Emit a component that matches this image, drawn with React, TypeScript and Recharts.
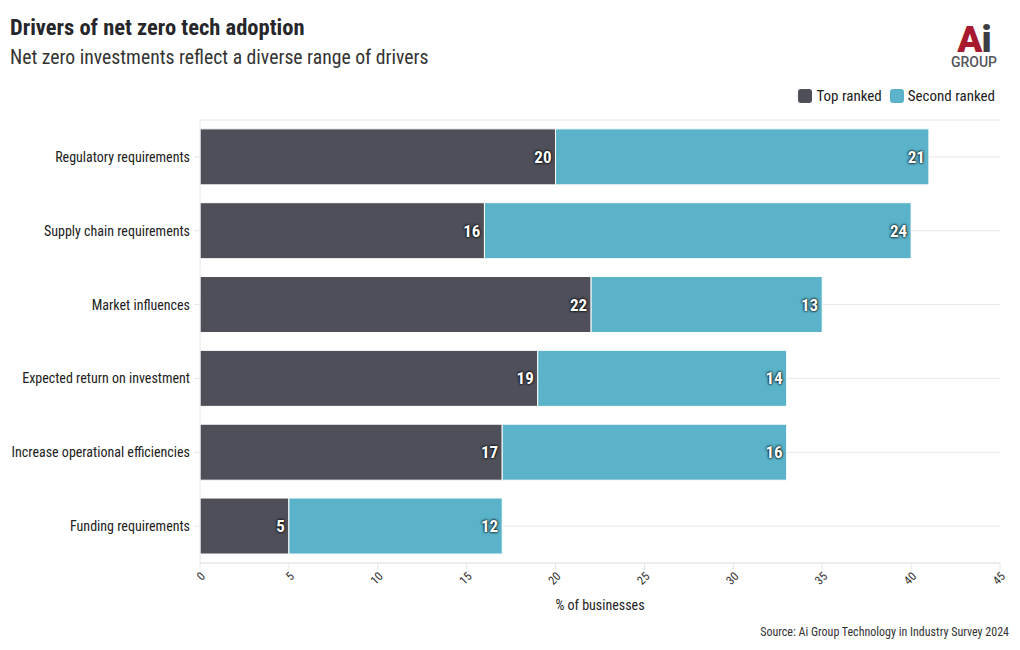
import { BarChart, Bar, XAxis, YAxis, CartesianGrid, LabelList } from 'recharts';

const categories = [
  'Regulatory requirements',
  'Supply chain requirements',
  'Market influences',
  'Expected return on investment',
  'Increase operational efficiencies',
  'Funding requirements',
];
const topRanked = [20, 16, 22, 19, 17, 5];
const secondRanked = [21, 24, 13, 14, 16, 12];
const xTicks = [0, 5, 10, 15, 20, 25, 30, 35, 40, 45];

const FONT = '"Roboto Condensed", "Liberation Sans Narrow", "DejaVu Sans Condensed", Roboto, sans-serif';
const DARK = '#4f4f5a';
const BLUE = '#5ab3c9';

const data = categories.map((name, i) => ({
  name,
  top: topRanked[i],
  second: secondRanked[i],
}));

const labelStyle = {
  fill: '#fff',
  fontSize: 17,
  fontWeight: 700,
  fontFamily: FONT,
  textShadow: '0 0 3px #000, 0 0 2px #000',
};

const CategoryTick = (props: any) => {
  const { x, y, payload } = props;
  return (
    <text x={x - 2} y={y} dy={5} textAnchor="end" fontSize={14} fill="#222" fontFamily={FONT}>
      {payload.value}
    </text>
  );
};

export default function App() {
  return (
    <div style={{ position: 'absolute', left: 0, top: 0, width: 1020, height: 650, background: '#fff', fontFamily: FONT, color: '#222' }}>
      <div style={{ position: 'absolute', left: 10, top: 14, fontSize: 22.5, fontWeight: 700, color: '#26262b' }}>
        Drivers of net zero tech adoption
      </div>
      <div style={{ position: 'absolute', left: 10, top: 46, fontSize: 19.7, color: '#333' }}>
        Net zero investments reflect a diverse range of drivers
      </div>
      <svg width={70} height={66} style={{ position: 'absolute', left: 939, top: 10, overflow: 'visible' }}>
        <text x={35} y={42} textAnchor="middle" fontFamily="Roboto, sans-serif" fontSize={37} fontWeight={900} letterSpacing={-1}>
          <tspan fill="#a6192e">A</tspan>
          <tspan fill="#3d3d45">i</tspan>
        </text>
        <text x={35} y={57} textAnchor="middle" fontFamily="Roboto, sans-serif" fontSize={14} fontWeight={500} fill="#55555c">
          GROUP
        </text>
      </svg>
      <div style={{ position: 'absolute', right: 25, top: 87, display: 'flex', alignItems: 'center', fontSize: 15, color: '#222' }}>
        <span style={{ width: 14, height: 14, borderRadius: 3, background: DARK, display: 'inline-block', marginRight: 4 }} />
        <span style={{ marginRight: 8 }}>Top ranked</span>
        <span style={{ width: 14, height: 14, borderRadius: 3, background: BLUE, display: 'inline-block', marginRight: 4 }} />
        <span>Second ranked</span>
      </div>
      <div style={{ position: 'absolute', right: 11, top: 625, fontSize: 12, color: '#333' }}>
        Source: Ai Group Technology in Industry Survey 2024
      </div>
      <div style={{ position: 'absolute', left: 0, top: 0 }}>
        <BarChart
          width={1020}
          height={650}
          data={data}
          layout="vertical"
          margin={{ top: 120, right: 20, left: 10, bottom: 37 }}
          barCategoryGap="12%"
        >
          <CartesianGrid horizontal vertical={false} stroke="#e8e8e8" />
          <XAxis
            type="number"
            domain={[0, 45]}
            ticks={xTicks}
            interval={0}
            height={50}
            axisLine={{ stroke: '#e6e6e6' }}
            tickLine={{ stroke: '#e6e6e6' }}
            angle={-45}
            textAnchor="end"
            tick={{ fontSize: 12, fill: '#333', fontFamily: FONT }}
            label={{ value: '% of businesses', position: 'insideBottom', offset: 3, fontSize: 14, fill: '#222', fontFamily: FONT }}
          />
          <YAxis
            type="category"
            dataKey="name"
            width={190}
            axisLine={{ stroke: '#e6e6e6' }}
            tickLine={{ stroke: '#e6e6e6' }}
            tick={<CategoryTick />}
          />
          <Bar dataKey="top" stackId="a" fill={DARK} stroke="#fff" strokeWidth={1} isAnimationActive={false}>
            <LabelList dataKey="top" position="insideRight" offset={4} style={labelStyle} />
          </Bar>
          <Bar dataKey="second" stackId="a" fill={BLUE} stroke="#fff" strokeWidth={1} isAnimationActive={false}>
            <LabelList dataKey="second" position="insideRight" offset={4} style={labelStyle} />
          </Bar>
        </BarChart>
      </div>
    </div>
  );
}
